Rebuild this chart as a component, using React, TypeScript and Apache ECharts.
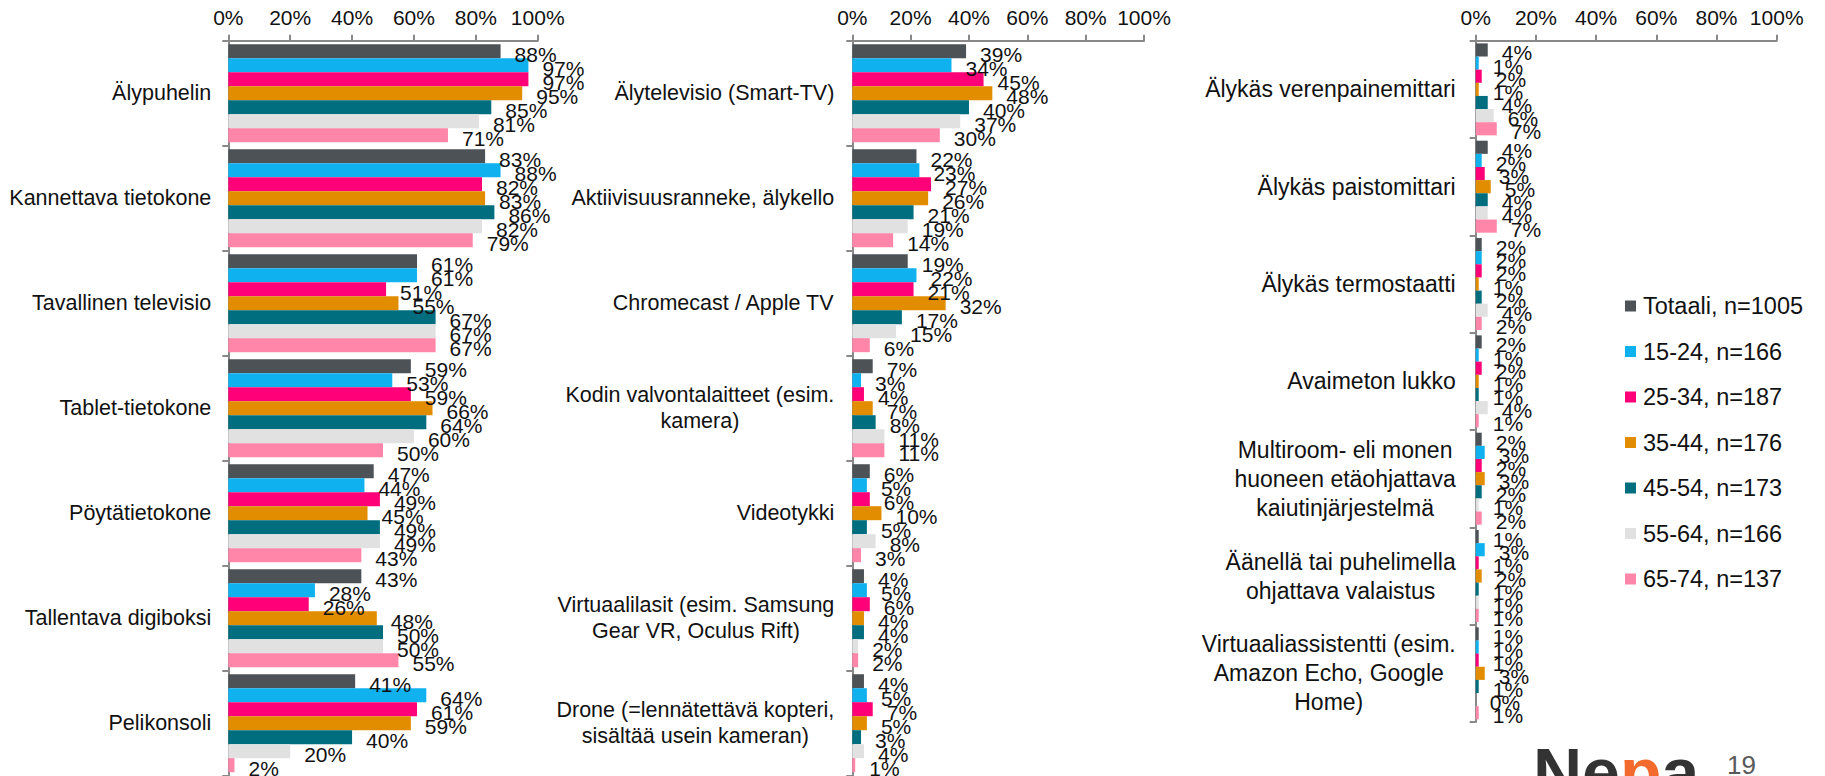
import React, { useEffect, useRef } from 'react';
import * as echarts from 'echarts';

const seriesNames = [
  'Totaali, n=1005',
  '15-24, n=166',
  '25-34, n=187',
  '35-44, n=176',
  '45-54, n=173',
  '55-64, n=166',
  '65-74, n=137',
];
const seriesColors = ['#4d5257', '#0fb1ef', '#ff0078', '#e28c00', '#006e7f', '#e1e1e1', '#ff86a9'];

const categories1 = [
  'Älypuhelin',
  'Kannettava tietokone',
  'Tavallinen televisio',
  'Tablet-tietokone',
  'Pöytätietokone',
  'Tallentava digiboksi',
  'Pelikonsoli',
];
// rows = categories, columns = series (Totaali, 15-24, ..., 65-74)
const values1 = [
  [88, 97, 97, 95, 85, 81, 71],
  [83, 88, 82, 83, 86, 82, 79],
  [61, 61, 51, 55, 67, 67, 67],
  [59, 53, 59, 66, 64, 60, 50],
  [47, 44, 49, 45, 49, 49, 43],
  [43, 28, 26, 48, 50, 50, 55],
  [41, 64, 61, 59, 40, 20, 2],
];

const categories2 = [
  'Älytelevisio (Smart-TV)',
  'Aktiivisuusranneke, älykello',
  'Chromecast / Apple TV',
  'Kodin valvontalaitteet (esim.\nkamera)',
  'Videotykki',
  'Virtuaalilasit (esim. Samsung\nGear VR, Oculus Rift)',
  'Drone (=lennätettävä kopteri,\nsisältää usein kameran)',
];
const values2 = [
  [39, 34, 45, 48, 40, 37, 30],
  [22, 23, 27, 26, 21, 19, 14],
  [19, 22, 21, 32, 17, 15, 6],
  [7, 3, 4, 7, 8, 11, 11],
  [6, 5, 6, 10, 5, 8, 3],
  [4, 5, 6, 4, 4, 2, 2],
  [4, 5, 7, 5, 3, 4, 1],
];

const categories3 = [
  'Älykäs verenpainemittari',
  'Älykäs paistomittari',
  'Älykäs termostaatti',
  'Avaimeton lukko',
  'Multiroom- eli monen\nhuoneen etäohjattava\nkaiutinjärjestelmä',
  'Äänellä tai puhelimella\nohjattava valaistus',
  'Virtuaaliassistentti (esim.\nAmazon Echo, Google\nHome)',
];
const values3 = [
  [4, 1, 2, 1, 4, 6, 7],
  [4, 2, 3, 5, 4, 4, 7],
  [2, 2, 2, 1, 2, 4, 2],
  [2, 1, 2, 1, 1, 4, 1],
  [2, 3, 2, 3, 2, 1, 2],
  [1, 3, 1, 2, 1, 1, 1],
  [1, 1, 1, 3, 1, 0, 1],
];

const FONT = '"Liberation Sans", Arial, sans-serif';
const AXIS_COLOR = '#898989';
const TEXT_COLOR = '#111111';

export default function App() {
  const ref = useRef<HTMLDivElement>(null);

  useEffect(() => {
    if (!ref.current) return;
    const chart = echarts.init(ref.current, undefined, { renderer: 'svg' });

    const panels = [
      { cats: categories1, vals: values1, grid: { left: 228.3, top: 40.7, width: 309.4, height: 735 }, gap: '6.7%', font: 21.5, lh: 25, margin: 17 },
      { cats: categories2, vals: values2, grid: { left: 852.3, top: 40.7, width: 291.7, height: 735 }, gap: '6.7%', font: 21.5, lh: 25.5, margin: 18 },
      { cats: categories3, vals: values3, grid: { left: 1475.7, top: 40.7, width: 301, height: 681.3 }, gap: '5.5%', font: 23, lh: 29, margin: 20 },
    ];

    const grids = panels.map((p) => ({ ...p.grid, containLabel: false }));
    const xAxes = panels.map((_, i) => ({
      type: 'value',
      gridIndex: i,
      position: 'top',
      min: 0,
      max: 100,
      interval: 20,
      splitLine: { show: false },
      axisLine: { show: true, lineStyle: { color: AXIS_COLOR, width: 2 } },
      axisTick: { show: true, length: 6, lineStyle: { color: AXIS_COLOR, width: 2 } },
      axisLabel: {
        formatter: '{value}%',
        fontFamily: FONT,
        fontSize: 21,
        color: TEXT_COLOR,
        margin: 13,
      },
    }));
    const yAxes = panels.map((p, i) => ({
      type: 'category',
      gridIndex: i,
      inverse: true,
      data: p.cats,
      axisLine: { show: true, lineStyle: { color: AXIS_COLOR, width: 2 } },
      axisTick: { show: true, length: 6, lineStyle: { color: AXIS_COLOR, width: 2 } },
      axisLabel: {
        interval: 0,
        align: 'right',
        margin: p.margin,
        formatter: (v: string) =>
          v
            .split('\n')
            .map((l) => `{c|${l}}`)
            .join('\n'),
        rich: {
          c: {
            align: 'center',
            fontFamily: FONT,
            fontSize: p.font,
            lineHeight: p.lh,
            color: TEXT_COLOR,
          },
        },
      },
    }));

    const series: any[] = [];
    panels.forEach((p, pi) => {
      seriesNames.forEach((name, si) => {
        series.push({
          type: 'bar',
          name,
          xAxisIndex: pi,
          yAxisIndex: pi,
          data: p.vals.map((row) => row[si]),
          barGap: '0%',
          barCategoryGap: p.gap,
          itemStyle: { color: seriesColors[si] },
          label: {
            show: true,
            position: 'right',
            distance: 14,
            offset: [0, 3],
            formatter: '{c}%',
            fontFamily: FONT,
            fontSize: 21,
            color: TEXT_COLOR,
          },
        });
      });
    });

    chart.setOption({
      animation: false,
      backgroundColor: '#ffffff',
      color: seriesColors,
      grid: grids,
      xAxis: xAxes,
      yAxis: yAxes,
      series,
      legend: {
        data: seriesNames,
        orient: 'vertical',
        left: 1620,
        top: 289,
        itemWidth: 11,
        itemHeight: 11,
        itemGap: 21.5,
        icon: 'rect',
        selectedMode: false,
        textStyle: { fontFamily: FONT, fontSize: 23.5, lineHeight: 23, color: TEXT_COLOR, padding: [0, 0, 0, 2] },
      },
      graphic: [
        {
          type: 'text',
          left: 1533,
          top: 738,
          style: {
            text: '{d|Ne}{o|p}{d|a}',
            rich: {
              d: { fontFamily: FONT, fontWeight: 'bold', fontSize: 68, fill: '#333333' },
              o: { fontFamily: FONT, fontWeight: 'bold', fontSize: 68, fill: '#f26a2e' },
            },
          },
        },
        {
          type: 'text',
          left: 1727,
          top: 752,
          style: { text: '19', fontFamily: FONT, fontSize: 26, fill: '#595959' },
        },
      ],
    });

    return () => chart.dispose();
  }, []);

  return (
    <div
      ref={ref}
      style={{ position: 'absolute', left: 0, top: 0, width: 1825, height: 776, background: '#fff' }}
    />
  );
}
